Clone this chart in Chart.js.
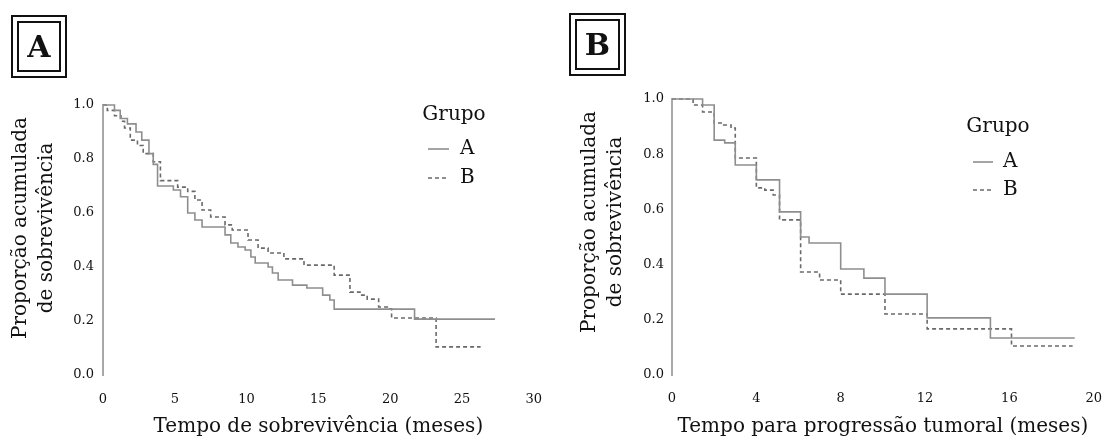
<!DOCTYPE html>
<html>
<head>
<meta charset="utf-8">
<script src="https://cdn.jsdelivr.net/npm/chart.js@4.4.1/dist/chart.umd.min.js"></script>
<style>
  html, body { margin: 0; padding: 0; background: #fff; }
  body { width: 1118px; height: 443px; position: relative; overflow: hidden; }
  canvas { position: absolute; top: 0; }
  #cA { left: 0; }
  #cB { left: 559px; }
  .box { position: absolute; border: 2px solid #111; box-sizing: border-box; }
  .inner { position: absolute; border: 2px solid #111; box-sizing: border-box;
           font: bold 30px "DejaVu Serif", serif; color: #111;
           display: flex; align-items: center; justify-content: center; }
</style>
</head>
<body>
<canvas id="cA" width="559" height="443"></canvas>
<canvas id="cB" width="559" height="443"></canvas>
<div class="box" style="left:11px;top:15px;width:56px;height:63px;"></div>
<div class="inner" style="left:17px;top:21px;width:44px;height:51px;">A</div>
<div class="box" style="left:569px;top:13px;width:57px;height:63px;"></div>
<div class="inner" style="left:575px;top:19px;width:45px;height:51px;">B</div>
<script>
// ---------- Panel A: survival time (months) ----------
const panelA_groupA_time = [0, 0.8, 1.2, 1.7, 2.3, 2.7, 3.2, 3.5, 3.8, 4.9, 5.4, 5.9, 6.4, 6.9, 8.5, 8.9, 9.4, 9.9, 10.3, 10.6, 11.5, 11.8, 12.2, 13.2, 14.2, 15.3, 15.8, 16.1, 21.7, 27.3];
const panelA_groupA_surv = [1.0, 0.98, 0.95, 0.93, 0.90, 0.87, 0.82, 0.78, 0.70, 0.685, 0.66, 0.60, 0.574, 0.548, 0.519, 0.489, 0.474, 0.463, 0.437, 0.415, 0.40, 0.378, 0.352, 0.333, 0.322, 0.296, 0.278, 0.244, 0.207, 0.207];
const panelA_groupB_time = [0, 0.3, 0.8, 1.25, 1.5, 1.9, 2.4, 2.8, 3.5, 4.0, 5.2, 5.9, 6.4, 6.9, 7.5, 8.5, 9.0, 10.1, 10.8, 11.5, 12.6, 14.0, 16.1, 17.2, 17.9, 18.4, 19.2, 19.8, 20.1, 23.2, 26.3];
const panelA_groupB_surv = [1.0, 0.98, 0.96, 0.94, 0.915, 0.87, 0.85, 0.82, 0.79, 0.72, 0.696, 0.68, 0.648, 0.611, 0.585, 0.556, 0.537, 0.50, 0.47, 0.452, 0.43, 0.407, 0.37, 0.307, 0.296, 0.281, 0.252, 0.245, 0.211, 0.104, 0.104];

// ---------- Panel B: time to tumour progression (months) ----------
const panelB_groupA_time = [0, 1.45, 2.0, 2.5, 3.0, 4.0, 5.1, 6.1, 6.5, 8.0, 9.1, 10.1, 12.1, 15.1, 19.1];
const panelB_groupA_surv = [1.0, 0.978, 0.851, 0.841, 0.761, 0.707, 0.591, 0.50, 0.478, 0.384, 0.351, 0.293, 0.207, 0.134, 0.134];
const panelB_groupB_time = [0, 1.0, 1.45, 2.0, 2.45, 2.8, 3.0, 4.0, 4.4, 4.8, 5.1, 6.1, 7.0, 8.0, 10.1, 12.1, 16.1, 19.0];
const panelB_groupB_surv = [1.0, 0.978, 0.953, 0.913, 0.906, 0.895, 0.786, 0.678, 0.670, 0.652, 0.562, 0.373, 0.344, 0.293, 0.221, 0.167, 0.105, 0.105];

// ---------- labels ----------
const groupLabels = ['A', 'B'];
const legendTitle = 'Grupo';
const yTitleLines = ['Proporção acumulada', 'de sobrevivência'];
const xTitleA = 'Tempo de sobrevivência (meses)';
const xTitleB = 'Tempo para progressão tumoral (meses)';
const yTicks = [0, 0.2, 0.4, 0.6, 0.8, 1.0];
const xTicksA = [0, 5, 10, 15, 20, 25, 30];
const xTicksB = [0, 4, 8, 12, 16, 20];

const SERIF = '"DejaVu Serif", serif';
const TEXT = '#111';

function pts(t, s) { return t.map((x, i) => ({ x: x, y: s[i] })); }

const legendPlugin = {
  id: 'grupoLegend',
  afterDraw(chart, args, o) {
    const ctx = chart.ctx;
    ctx.save();
    ctx.font = '20px ' + SERIF;
    ctx.fillStyle = TEXT;
    ctx.textBaseline = 'middle';
    ctx.textAlign = 'center';
    ctx.fillText(legendTitle, o.x, o.y);
    chart.data.datasets.forEach((ds, i) => {
      const y = o.y + o.first + i * o.row;
      ctx.strokeStyle = ds.borderColor;
      ctx.lineWidth = ds.borderWidth;
      ctx.setLineDash(ds.borderDash || []);
      ctx.beginPath();
      ctx.moveTo(o.l0, y);
      ctx.lineTo(o.l1, y);
      ctx.stroke();
      ctx.setLineDash([]);
      ctx.textAlign = 'left';
      ctx.fillText(ds.label, o.tx, y);
    });
    // rotated two-line y-axis title
    ctx.font = '20px ' + SERIF;
    ctx.textAlign = 'center';
    yTitleLines.forEach((line, i) => {
      ctx.save();
      ctx.translate(o.yt[i], o.ytc);
      ctx.rotate(-Math.PI / 2);
      ctx.fillText(line, 0, 0);
      ctx.restore();
    });
    ctx.restore();
  }
};

function makeChart(id, dataA, dataB, xTicks, xTitle, geo, leg) {
  const xmax = xTicks[xTicks.length - 1];
  return new Chart(document.getElementById(id), {
    type: 'line',
    data: {
      datasets: [
        { label: groupLabels[0], data: dataA, stepped: true, borderColor: '#8e8e8e', borderWidth: 1.6,
          pointRadius: 0, fill: false, clip: 6 },
        { label: groupLabels[1], data: dataB, stepped: true, borderColor: '#6a6a6a', borderWidth: 1.6,
          borderDash: [4, 3], pointRadius: 0, fill: false, clip: 6 }
      ]
    },
    options: {
      responsive: false,
      devicePixelRatio: 1,
      animation: false,
      events: [],
      layout: { padding: { top: geo.top, left: 0, right: geo.right, bottom: 0 } },
      plugins: { legend: { display: false }, tooltip: { enabled: false }, grupoLegend: leg },
      scales: {
        x: {
          type: 'linear', min: 0, max: xmax,
          afterBuildTicks: s => { s.ticks = xTicks.map(v => ({ value: v })); },
          afterFit: s => { s.height = geo.xh; },
          grid: { display: false, drawTicks: false },
          border: { display: false },
          ticks: { color: TEXT, font: { family: SERIF, size: 13 }, padding: geo.xpad, maxRotation: 0,
                   callback: v => String(v) },
          title: { display: true, text: xTitle, color: TEXT, font: { family: SERIF, size: 20 },
                   padding: { top: 0, bottom: 4 } }
        },
        y: {
          type: 'linear', min: 0, max: 1,
          afterBuildTicks: s => { s.ticks = yTicks.map(v => ({ value: v })); },
          afterFit: s => { s.width = geo.left; },
          grid: { display: false, drawTicks: false },
          border: { display: true, color: '#a8a8a8', width: 2 },
          ticks: { color: TEXT, font: { family: SERIF, size: 13 }, padding: geo.ypad,
                   callback: v => Number(v).toFixed(1) },
          title: { display: false }
        }
      }
    },
    plugins: [legendPlugin]
  });
}

makeChart('cA',
  pts(panelA_groupA_time, panelA_groupA_surv),
  pts(panelA_groupB_time, panelA_groupB_surv),
  xTicksA, xTitleA,
  { top: 105, right: 23, left: 103, xh: 68, xpad: 17, ypad: 9 },
  { x: 454, y: 115, first: 34, row: 29, l0: 428, l1: 449, tx: 460, yt: [21, 47], ytc: 228 });

makeChart('cB',
  pts(panelB_groupA_time, panelB_groupA_surv),
  pts(panelB_groupB_time, panelB_groupB_surv),
  xTicksB, xTitleB,
  { top: 99, right: 14, left: 113, xh: 68, xpad: 16, ypad: 8 },
  { x: 439, y: 127, first: 35, row: 28, l0: 414, l1: 434, tx: 444, yt: [31, 57], ytc: 222 });
</script>
</body>
</html>
